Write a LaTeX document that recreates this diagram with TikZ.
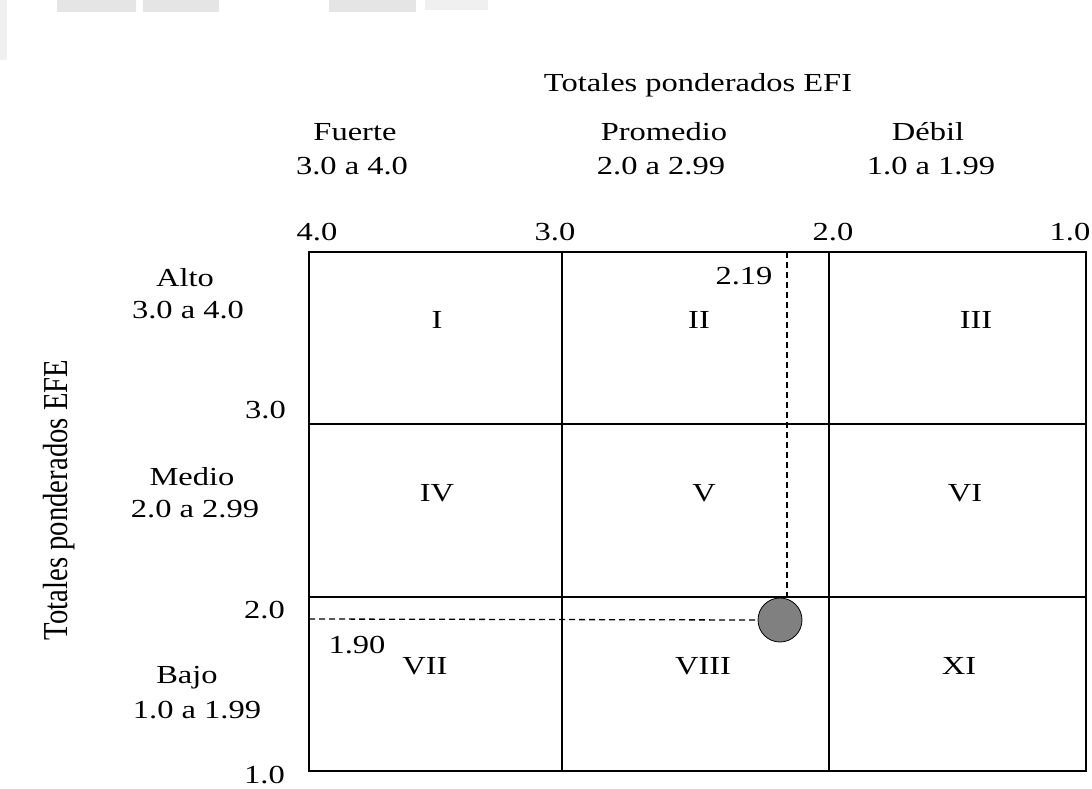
\documentclass[tikz,border=0pt]{standalone}
\usepackage{fontspec}
\setmainfont{Liberation Serif}[FakeStretch=1.25]
\newfontfamily\rotfont{Liberation Serif}[FakeStretch=0.82]
\begin{document}
\begin{tikzpicture}[x=1pt,y=-1pt,
  lbl/.style={font=\fontsize{26}{30}\selectfont, inner sep=0pt, anchor=base},
  lblr/.style={font=\fontsize{26}{30}\selectfont, inner sep=0pt, anchor=base east},
  gridline/.style={line width=1.5pt, black},
  dashline/.style={line width=1.3pt, black, dash pattern=on 6pt off 4pt},
  wm/.style={fill=black!10, draw=none}]
\useasboundingbox (0,0) rectangle (1092,789);
\fill[white] (0,0) rectangle (1092,789);
% faint scan remnants at the top
\fill[wm] (57,0) rectangle (136,12);
\fill[wm] (143,0) rectangle (219,12);
\fill[wm] (329,0) rectangle (416,12);
\fill[black!6] (425,0) rectangle (488,10);
\fill[black!6] (0,0) rectangle (7,60);
% grid
\coordinate (g00) at (309,252);
\coordinate (g11) at (1086,771);
\draw[gridline] (g00) rectangle (g11);
\draw[gridline] (562,252) -- (562,771);
\draw[gridline] (829,252) -- (829,771);
\draw[gridline] (309,424) -- (1086,424);
\draw[gridline] (309,597) -- (1086,597);
% point
\node[circle, draw=black, line width=0.8pt, fill=black!50, minimum size=44pt, inner sep=0pt] (pt) at (780,620) {};
\coordinate (vtop) at (787,252);
\coordinate (hleft) at (309,619);
\draw[dashline] (vtop) -- (vtop |- pt.north);
\draw[dashline] (hleft) -- (pt.west);
% headings
\node[lbl] (title) at (698,92) {Totales ponderados EFI};
\node[lbl] (fuerte) at (355,141) {Fuerte};
\node[lbl] (fuerteR) at (352,175) {3.0 a 4.0};
\node[lbl] (prom) at (664,141) {Promedio};
\node[lbl] (promR) at (661,175) {2.0 a 2.99};
\node[lbl] (debil) at (928,141) {Débil};
\node[lbl] (debilR) at (931,175) {1.0 a 1.99};
% top ticks
\node[lbl] (t4) at (317,240) {4.0};
\node[lbl] (t3) at (555,240) {3.0};
\node[lbl] (t2) at (833,240) {2.0};
\node[lbl] (t1) at (1070,240) {1.0};
% left labels
\node[lbl] (alto) at (185,286) {Alto};
\node[lbl] (altoR) at (188,318) {3.0 a 4.0};
\node[lbl] (medio) at (192,485) {Medio};
\node[lbl] (medioR) at (195,517) {2.0 a 2.99};
\node[lbl] (bajo) at (187,683) {Bajo};
\node[lbl] (bajoR) at (197,718) {1.0 a 1.99};
\node[lblr] (l3) at (286,418) {3.0};
\node[lblr] (l2) at (285,618) {2.0};
\node[lblr] (l1) at (285,783) {1.0};
% rotated axis title
\node[inner sep=0pt, anchor=base, rotate=90, font=\rotfont\fontsize{35}{40}\selectfont] (efe) at (67,500) {Totales ponderados EFE};
% cells
\node[lbl] (c1) at (437,328) {I};
\node[lbl] (c2) at (699,328) {II};
\node[lbl] (c3) at (976,328) {III};
\node[lbl] (c4) at (437,501) {IV};
\node[lbl] (c5) at (704,501) {V};
\node[lbl] (c6) at (965,501) {VI};
\node[lbl] (c7) at (425,674) {VII};
\node[lbl] (c8) at (703,674) {VIII};
\node[lbl] (c9) at (959,674) {XI};
% values
\node[lbl] (v219) at (744,284) {2.19};
\node[lbl] (v190) at (357,653) {1.90};
\end{tikzpicture}
\end{document}
